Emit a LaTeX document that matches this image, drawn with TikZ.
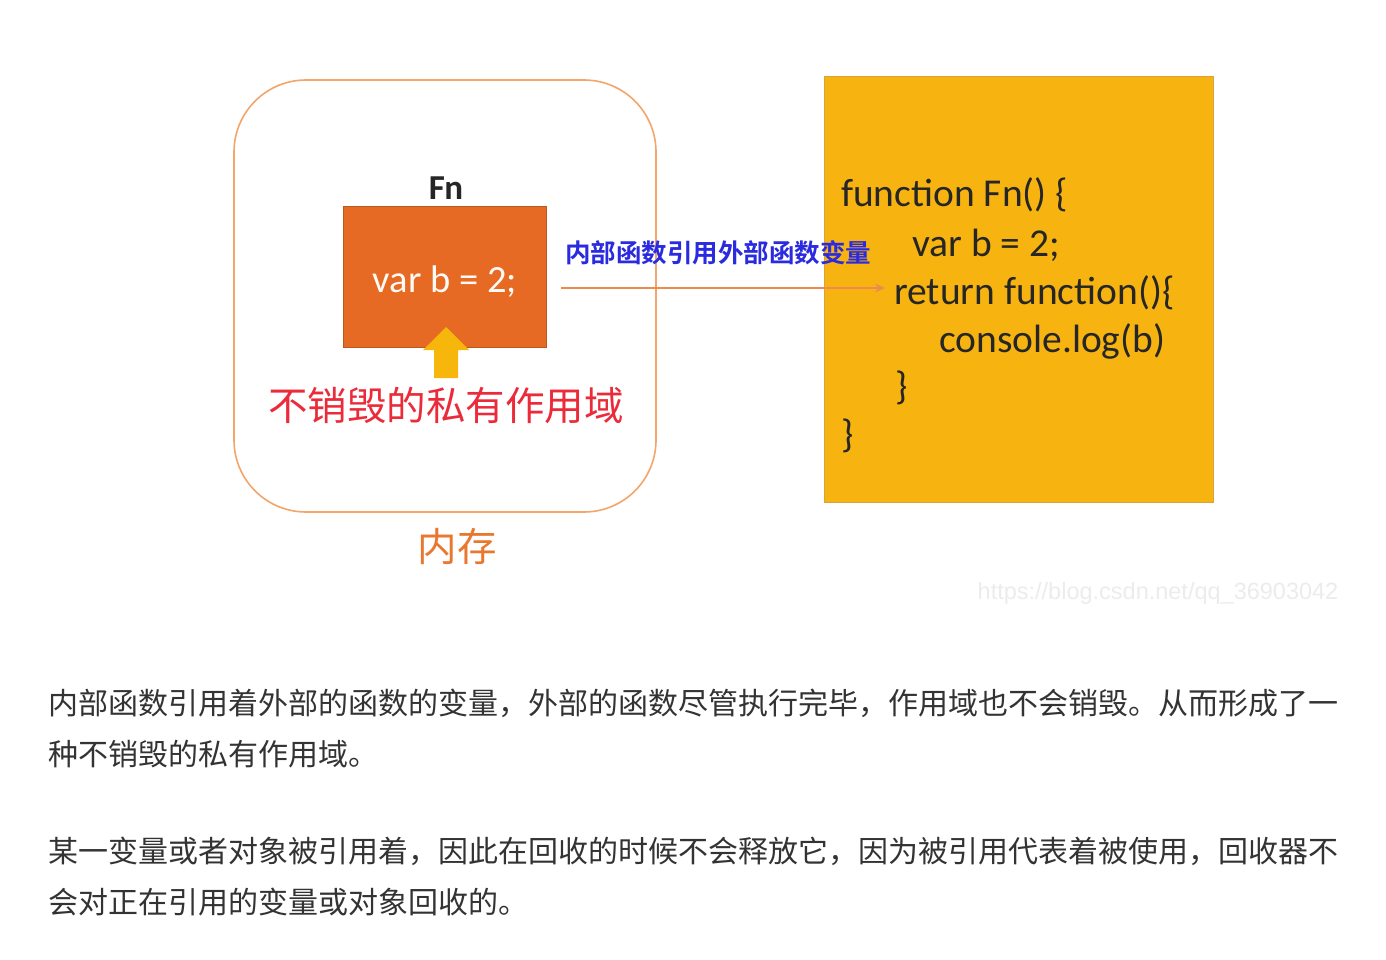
\documentclass[tikz,border=0pt]{standalone}
\usepackage{fontspec}
\setmainfont{Carlito}
\newfontfamily\cjk{Noto Sans CJK SC}
\newfontfamily\cjkb{Noto Sans CJK SC Bold}
\newfontfamily\wmfont{Liberation Sans}
\usetikzlibrary{arrows.meta}
\definecolor{memline}{HTML}{F2A66C}
\definecolor{fnfill}{HTML}{E66A23}
\definecolor{fnedge}{HTML}{B85A20}
\definecolor{codefill}{HTML}{F7B411}
\definecolor{codeedge}{HTML}{D9A23A}
\definecolor{uparrow}{HTML}{F6B60C}
\definecolor{redtxt}{HTML}{EC2B3A}
\definecolor{bluetxt}{HTML}{2A2AE0}
\definecolor{memtxt}{HTML}{E9782E}
\definecolor{linkline}{HTML}{EE8A50}
\definecolor{bodytxt}{HTML}{333333}
\definecolor{wmtxt}{HTML}{ECECEC}
\tikzset{
  codeline/.style={anchor=base west, inner sep=0pt, font=\fontsize{39.5}{41}\selectfont, text=black!85},
  bodyline/.style={anchor=base west, inner sep=0pt, font=\cjk\fontsize{30}{32}\selectfont, text=bodytxt},
}
\begin{document}
\begin{tikzpicture}[x=1pt,y=-1pt]
\useasboundingbox (0,0) rectangle (1386,960);
\fill[white] (0,0) rectangle (1386,960);
% memory rounded box
\node[draw=memline, line width=1.6pt, rounded corners=72pt, minimum width=422pt, minimum height=432pt, inner sep=0pt] (mem) at (445,296) {};
\node[anchor=base, inner sep=0pt, font=\cjk\fontsize{39.5}{40}\selectfont, text=memtxt] (memlbl) at (457,561) {内存};
% Fn box
\node[draw=fnedge, fill=fnfill, line width=0.8pt, minimum width=203pt, minimum height=141pt, inner sep=0pt] (fnbox) at (444.5,276.5) {};
\node[anchor=base, inner sep=0pt, font=\bfseries\fontsize{35}{36}\selectfont, text=black!85] (fnlbl) at (446,200) {Fn};
\node[anchor=base, inner sep=0pt, font=\fontsize{38.5}{40}\selectfont, text=white!96!orange] (varb) at (445,292) {var b = 2;};
% yellow up arrow
\fill[uparrow] (446,327) -- (469,350) -- (458,350) -- (458,378) -- (434,378) -- (434,350) -- (423,350) -- cycle;
\node[anchor=base, inner sep=0pt, font=\cjk\fontsize{39.5}{40}\selectfont, text=redtxt] (priv) at (446,420) {不销毁的私有作用域};
% code box
\node[draw=codeedge, fill=codefill, line width=1pt, minimum width=389pt, minimum height=425pt, inner sep=0pt] (code) at (1018.5,289.5) {};
\node[codeline] (c1) at (841,207) {function Fn() \{};
\node[codeline] (c2) at (912,256) {var b = 2;};
\node[codeline] (c3) at (894,304) {return function()\{};
\node[codeline] (c4) at (939,352) {console.log(b)};
\node[codeline] (c5) at (895,399) {\}};
\node[codeline] (c6) at (841,447) {\}};
% link arrow
\coordinate (linkstart) at (561,288);
\coordinate (linkend) at (885,288);
\draw[linkline, line width=2.2pt, -{Stealth[length=10pt,width=9pt]}] (linkstart) -- (linkend);
\node[anchor=base, inner sep=0pt, font=\cjkb\fontsize{25.5}{27}\selectfont, text=bluetxt] (linklbl) at (718,262) {内部函数引用外部函数变量};
% watermark
\node[anchor=base, inner sep=0pt, font=\wmfont\fontsize{23.5}{24}\selectfont, text=wmtxt] (wm) at (1158,599) {https://blog.csdn.net/qq\_36903042};
% body text
\node[bodyline] (p1) at (48,714) {内部函数引用着外部的函数的变量，外部的函数尽管执行完毕，作用域也不会销毁。从而形成了一};
\node[bodyline] (p2) at (48,765) {种不销毁的私有作用域。};
\node[bodyline] (p3) at (48,862) {某一变量或者对象被引用着，因此在回收的时候不会释放它，因为被引用代表着被使用，回收器不};
\node[bodyline] (p4) at (48,913) {会对正在引用的变量或对象回收的。};
\end{tikzpicture}
\end{document}
